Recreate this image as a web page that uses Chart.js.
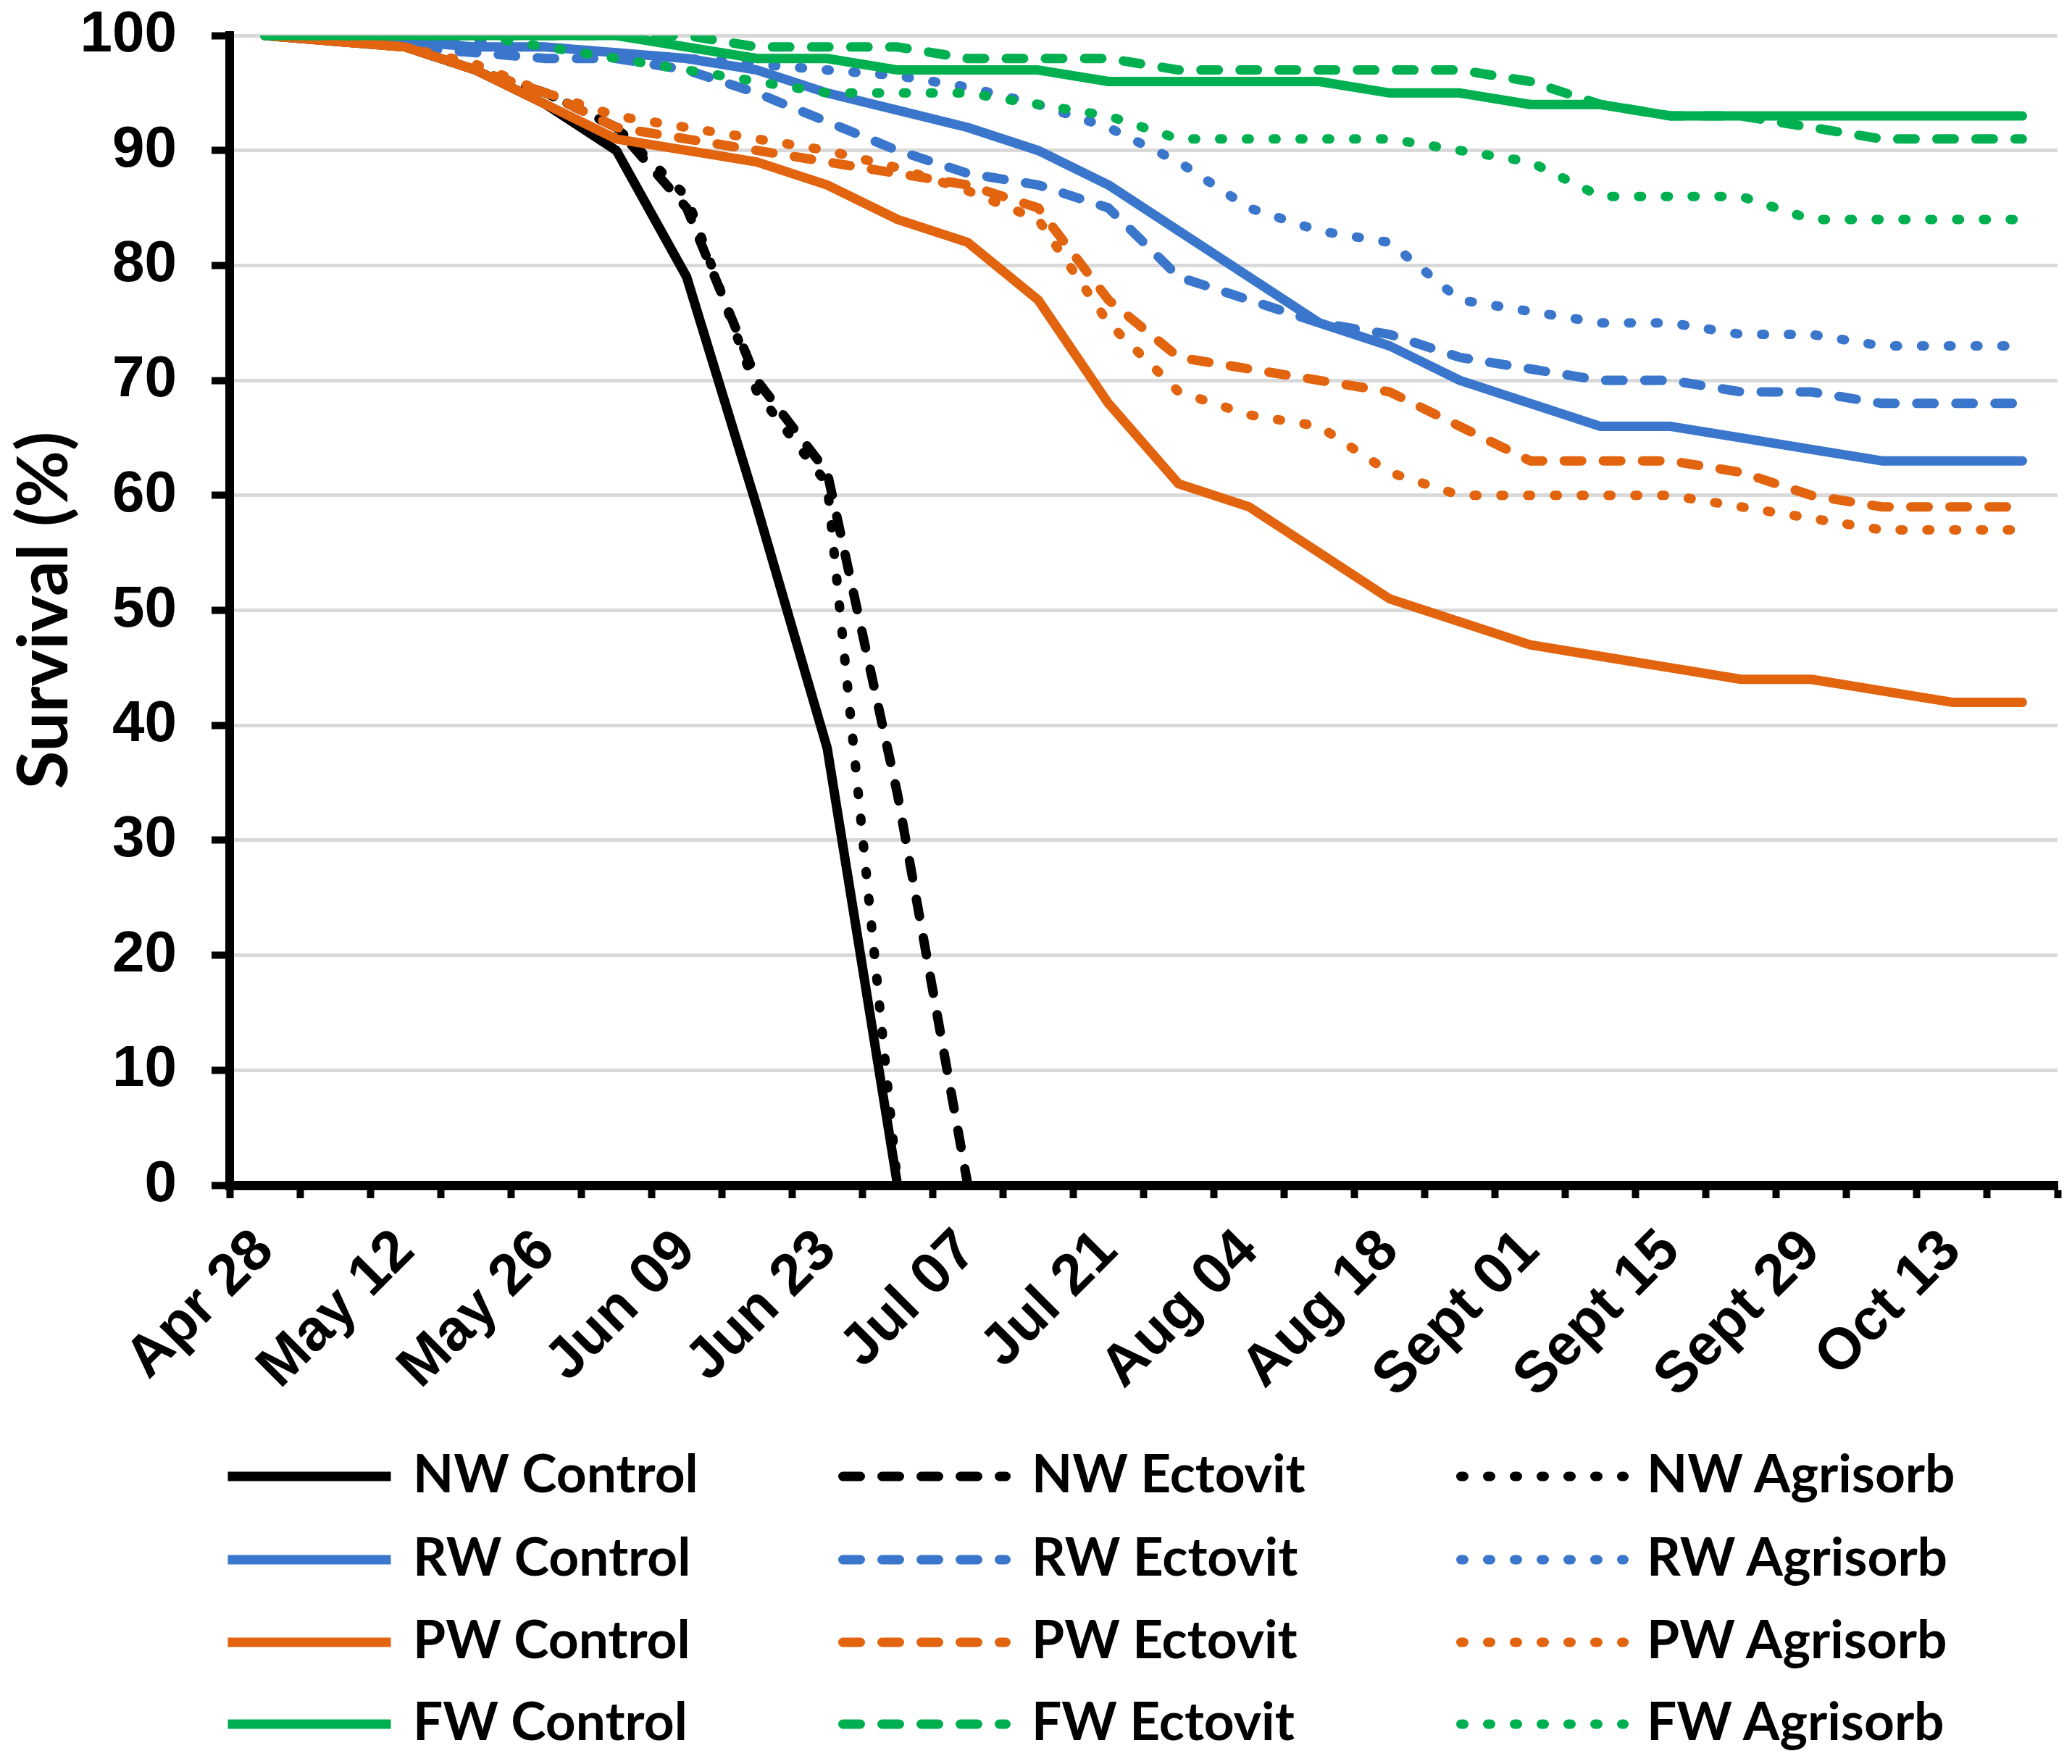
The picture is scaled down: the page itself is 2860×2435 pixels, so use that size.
<!DOCTYPE html>
<html>
<head>
<meta charset="utf-8">
<title>Survival</title>
<script src="https://cdn.jsdelivr.net/npm/chart.js@4.4.1/dist/chart.umd.min.js"></script>
<style>
    html, body { margin: 0; padding: 0; background: #ffffff; }
    #wrap { position: relative; width: 2860px; height: 2435px; overflow: hidden; }
    #survivalChart { position: absolute; left: 0; top: 0; }
    .legend-item { position: absolute; }
    .legend-text {
        position: absolute;
        font-family: Lato, "Open Sans", sans-serif;
        font-weight: 700;
        font-size: 73px;
        line-height: 90px;
        color: #000000;
        white-space: nowrap;
    }
</style>
</head>
<body>
<div id="wrap">
    <canvas id="survivalChart" width="2860" height="1960"></canvas>
    <div id="legend"></div>
</div>
<script>
// weekly sampling dates, only every second one is labelled on the axis
const weeks = ['Apr 28', 'May 05', 'May 12', 'May 19', 'May 26', 'Jun 02', 'Jun 09', 'Jun 16',
    'Jun 23', 'Jun 30', 'Jul 07', 'Jul 14', 'Jul 21', 'Jul 28', 'Aug 04', 'Aug 11', 'Aug 18',
    'Aug 25', 'Sept 01', 'Sept 08', 'Sept 15', 'Sept 22', 'Sept 29', 'Oct 06', 'Oct 13', 'Oct 20'];

const yTicks = [0, 10, 20, 30, 40, 50, 60, 70, 80, 90, 100];

// survival (%)
const nwControl = [100, 99.5, 99, 97, 94, 90, 79, 59, 38, 0];
const nwEctovit = [100, 100, 99, 97, 95, 92, 85, 70, 62, 34, 0];
const nwAgrisorb = [100, 100, 99, 97, 95, 92, 86, 69, 61, 0];

const rwControl = [100, 100, 99.5, 99, 99, 98.5, 98, 97, 95, 93.5, 92, 90, 87, 83, 79, 75, 73, 70, 68, 66, 66, 65, 64, 63, 63, 63];
const rwEctovit = [100, 100, 99, 98.5, 98, 98, 97, 95, 92.5, 90, 88, 87, 85, 79, 77, 75, 74, 72, 71, 70, 70, 69, 69, 68, 68, 68];
const rwAgrisorb = [100, 100, 100, 99.5, 99, 98.5, 98, 97.5, 97, 96.5, 95.5, 94, 92, 89, 85, 83, 82, 77, 76, 75, 75, 74, 74, 73, 73, 73];

const pwControl = [100, 99.5, 99, 97, 94, 91, 90, 89, 87, 84, 82, 77, 68, 61, 59, 55, 51, 49, 47, 46, 45, 44, 44, 43, 42, 42];
const pwEctovit = [100, 99.5, 99, 97, 95, 92, 91, 90, 89, 88, 87, 85, 77, 72, 71, 70, 69, 66, 63, 63, 63, 62, 60, 59, 59, 59];
const pwAgrisorb = [100, 99.5, 99, 97.5, 95, 93, 92, 91, 90, 88.5, 86.5, 84, 75, 69, 67, 66, 62, 60, 60, 60, 60, 59, 58, 57, 57, 57];

const fwControl = [100, 100, 100, 100, 100, 100, 99, 98, 98, 97, 97, 97, 96, 96, 96, 96, 95, 95, 94, 94, 93, 93, 93, 93, 93, 93];
const fwEctovit = [100, 100, 100, 100, 100, 100, 100, 99, 99, 99, 98, 98, 98, 97, 97, 97, 97, 97, 96, 94, 93, 93, 92, 91, 91, 91];
const fwAgrisorb = [100, 100, 100, 100, 99, 98, 97, 96, 95, 95, 95, 94, 93, 91, 91, 91, 91, 90, 89, 86, 86, 86, 84, 84, 84, 84];

const BLACK = '#000000';
const BLUE = '#3a76cc';
const ORANGE = '#e2640e';
const GREEN = '#00b050';

const LINE_W = 13;
const DASH = [24, 30];
const DOT = [4, 33];

const tickFont = { family: '"Liberation Sans", Arial, sans-serif', size: 80, weight: 'bold' };

function series(label, data, color, dash) {
    return {
        label: label,
        data: data,
        borderColor: color,
        backgroundColor: color,
        borderWidth: LINE_W,
        borderDash: dash,
        borderCapStyle: 'round',
        borderJoinStyle: 'round',
        pointRadius: 0,
        tension: 0,
        fill: false,
        spanGaps: false
    };
}

const datasets = [
    series('NW Control', nwControl, BLACK, []),
    series('NW Ectovit', nwEctovit, BLACK, DASH),
    series('NW Agrisorb', nwAgrisorb, BLACK, DOT),
    series('RW Control', rwControl, BLUE, []),
    series('RW Ectovit', rwEctovit, BLUE, DASH),
    series('RW Agrisorb', rwAgrisorb, BLUE, DOT),
    series('PW Control', pwControl, ORANGE, []),
    series('PW Ectovit', pwEctovit, ORANGE, DASH),
    series('PW Agrisorb', pwAgrisorb, ORANGE, DOT),
    series('FW Control', fwControl, GREEN, []),
    series('FW Ectovit', fwEctovit, GREEN, DASH),
    series('FW Agrisorb', fwAgrisorb, GREEN, DOT)
];

// later series are painted on top, like in the spreadsheet
datasets.forEach((ds, i) => { ds.order = datasets.length - i; });

const ctx = document.getElementById('survivalChart').getContext('2d');

const survivalChart = new Chart(ctx, {
    type: 'line',
    data: {
        labels: weeks,
        datasets: datasets
    },
    options: {
        responsive: false,
        animation: false,
        devicePixelRatio: 1,
        layout: {
            padding: { top: 49, right: 20, bottom: 0, left: 0 }
        },
        plugins: {
            legend: { display: false },
            tooltip: { enabled: false }
        },
        scales: {
            x: {
                type: 'category',
                offset: true,
                grid: {
                    offset: true,
                    drawOnChartArea: false,
                    tickLength: 18,
                    tickColor: BLACK,
                    tickWidth: 10
                },
                border: { color: BLACK, width: 13 },
                ticks: {
                    autoSkip: false,
                    minRotation: 45,
                    maxRotation: 45,
                    padding: 26,
                    color: BLACK,
                    font: tickFont,
                    callback: function (value, index) {
                        return index % 2 === 0 ? weeks[index] : '';
                    }
                },
                afterFit: function (scale) {
                    scale.height = 324;
                    scale.paddingLeft = 0;
                    scale.paddingRight = 0;
                }
            },
            y: {
                min: 0,
                max: 100,
                afterBuildTicks: function (scale) {
                    scale.ticks = yTicks.map(v => ({ value: v }));
                },
                grid: {
                    color: '#d9d9d9',
                    lineWidth: 5,
                    tickLength: 25,
                    tickColor: BLACK,
                    tickWidth: 10
                },
                border: { color: BLACK, width: 12 },
                ticks: {
                    padding: 48,
                    color: BLACK,
                    font: tickFont
                },
                title: {
                    display: true,
                    text: 'Survival (%)',
                    color: BLACK,
                    font: { family: 'Lato, "Open Sans", sans-serif', size: 96, weight: 'bold' },
                    padding: { top: 4, bottom: 0 }
                },
                afterFit: function (scale) {
                    scale.width = 317;
                    scale.paddingTop = 0;
                    scale.paddingBottom = 0;
                }
            }
        }
    }
});

// legend laid out as the 3 x 4 grid of the original
function buildLegend(chart) {
    const box = document.getElementById('legend');
    const sampleX = [308, 1157, 2010];
    const textX = [570, 1424, 2273];
    const rowY = [2038, 2153, 2267, 2380];
    const sampleW = 238;

    chart.data.datasets.forEach((ds, i) => {
        const col = i % 3;
        const row = Math.floor(i / 3);

        const svgNS = 'http://www.w3.org/2000/svg';
        const svg = document.createElementNS(svgNS, 'svg');
        svg.setAttribute('width', sampleW);
        svg.setAttribute('height', 30);
        svg.setAttribute('class', 'legend-item');
        svg.style.left = sampleX[col] + 'px';
        svg.style.top = (rowY[row] - 15) + 'px';

        const line = document.createElementNS(svgNS, 'line');
        line.setAttribute('x1', LINE_W / 2);
        line.setAttribute('x2', sampleW - LINE_W / 2);
        line.setAttribute('y1', 15);
        line.setAttribute('y2', 15);
        line.setAttribute('stroke', ds.borderColor);
        line.setAttribute('stroke-width', LINE_W);
        line.setAttribute('stroke-linecap', ds.borderDash.length ? 'round' : 'butt');
        if (ds.borderDash.length) {
            line.setAttribute('stroke-dasharray', ds.borderDash.join(' '));
        }
        svg.appendChild(line);
        box.appendChild(svg);

        const text = document.createElement('span');
        text.className = 'legend-text';
        text.textContent = ds.label;
        text.style.left = textX[col] + 'px';
        text.style.top = (rowY[row] - 51) + 'px';
        box.appendChild(text);
    });
}

buildLegend(survivalChart);
</script>
</body>
</html>
